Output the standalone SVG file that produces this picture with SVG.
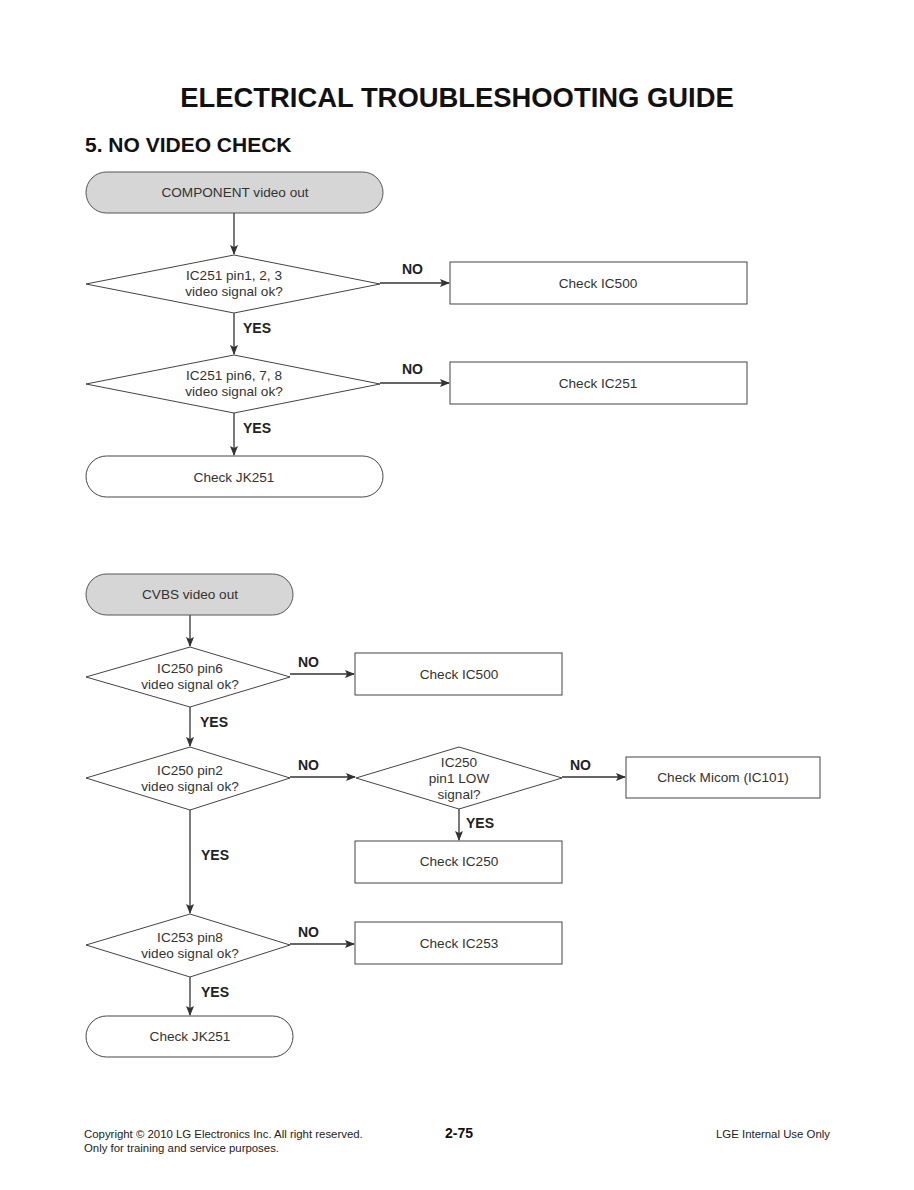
<svg xmlns="http://www.w3.org/2000/svg" width="914" height="1190" viewBox="0 0 914 1190">
<style>
.title{font-family:"Liberation Sans",Arial,sans-serif;font-weight:bold;fill:#111}
.t{font-family:"Liberation Sans",Arial,sans-serif;font-size:13.6px;fill:#333;text-anchor:middle}
.lbl{font-family:"Liberation Sans",Arial,sans-serif;font-size:14px;font-weight:bold;fill:#222}
.shape{fill:#fff;stroke:#444;stroke-width:1}
.start{fill:#d6d6d6;stroke:#555;stroke-width:1}
.conn{fill:none;stroke:#333;stroke-width:1.3}
.foot{font-family:"Liberation Sans Narrow","Liberation Sans",Arial,sans-serif;font-size:11.4px;fill:#222}
</style>
<defs>
<marker id="arr" markerWidth="10" markerHeight="8" refX="9" refY="4" orient="auto" markerUnits="userSpaceOnUse">
<path d="M0,0 L10,4 L0,8 L2,4 z" fill="#333"/>
</marker>
</defs>
<rect width="914" height="1190" fill="#fff"/>
<text class="title" x="457" y="107" font-size="27.4" text-anchor="middle">ELECTRICAL TROUBLESHOOTING GUIDE</text>
<text class="title" x="85" y="152" font-size="21">5. NO VIDEO CHECK</text>

<g id="connectors">
<path class="conn" d="M234,213 V254" marker-end="url(#arr)"/>
<path class="conn" d="M380,283 H449" marker-end="url(#arr)"/>
<path class="conn" d="M234,313 V354" marker-end="url(#arr)"/>
<path class="conn" d="M380,383 H449" marker-end="url(#arr)"/>
<path class="conn" d="M234,413 V455" marker-end="url(#arr)"/>
<path class="conn" d="M190,615 V646" marker-end="url(#arr)"/>
<path class="conn" d="M290,674 H354" marker-end="url(#arr)"/>
<path class="conn" d="M190,707 V746" marker-end="url(#arr)"/>
<path class="conn" d="M290,777 H355" marker-end="url(#arr)"/>
<path class="conn" d="M562,777 H625" marker-end="url(#arr)"/>
<path class="conn" d="M459,809 V840" marker-end="url(#arr)"/>
<path class="conn" d="M190,810 V913" marker-end="url(#arr)"/>
<path class="conn" d="M290,944 H354" marker-end="url(#arr)"/>
<path class="conn" d="M190,977 V1015" marker-end="url(#arr)"/>
<text class="lbl" x="402" y="274">NO</text>
<text class="lbl" x="243" y="333">YES</text>
<text class="lbl" x="402" y="374">NO</text>
<text class="lbl" x="243" y="433">YES</text>
<text class="lbl" x="298" y="667">NO</text>
<text class="lbl" x="200" y="727">YES</text>
<text class="lbl" x="298" y="770">NO</text>
<text class="lbl" x="570" y="770">NO</text>
<text class="lbl" x="466" y="828">YES</text>
<text class="lbl" x="201" y="860">YES</text>
<text class="lbl" x="298" y="937">NO</text>
<text class="lbl" x="201" y="997">YES</text>
</g>

<g id="component_start">
<rect class="start" x="86" y="172" width="297" height="41" rx="20.5"/>
<text class="t" x="235" y="197">COMPONENT video out</text>
</g>
<g id="d1">
<polygon class="shape" points="234,255 380,284 234,313 86,284"/>
<text class="t" x="234" y="280">IC251 pin1, 2, 3</text>
<text class="t" x="234" y="296">video signal ok?</text>
</g>
<g id="b1">
<rect class="shape" x="450" y="262" width="297" height="42"/>
<text class="t" x="598" y="288">Check IC500</text>
</g>
<g id="d2">
<polygon class="shape" points="234,355 380,384 234,413 86,384"/>
<text class="t" x="234" y="380">IC251 pin6, 7, 8</text>
<text class="t" x="234" y="396">video signal ok?</text>
</g>
<g id="b2">
<rect class="shape" x="450" y="362" width="297" height="42"/>
<text class="t" x="598" y="388">Check IC251</text>
</g>
<g id="end1">
<rect class="shape" x="86" y="456" width="297" height="41" rx="20.5"/>
<text class="t" x="234" y="482">Check JK251</text>
</g>

<g id="cvbs_start">
<rect class="start" x="86" y="574" width="207" height="41" rx="20.5"/>
<text class="t" x="190" y="599">CVBS video out</text>
</g>
<g id="d3">
<polygon class="shape" points="190,647 290,677 190,707 86,677"/>
<text class="t" x="190" y="673">IC250 pin6</text>
<text class="t" x="190" y="689">video signal ok?</text>
</g>
<g id="b3">
<rect class="shape" x="355" y="653" width="207" height="42"/>
<text class="t" x="459" y="679">Check IC500</text>
</g>
<g id="d4">
<polygon class="shape" points="190,747 290,778 190,810 86,778"/>
<text class="t" x="190" y="775">IC250 pin2</text>
<text class="t" x="190" y="791">video signal ok?</text>
</g>
<g id="d5">
<polygon class="shape" points="459,747 562,778 459,809 356,778"/>
<text class="t" x="459" y="767">IC250</text>
<text class="t" x="459" y="783">pin1 LOW</text>
<text class="t" x="459" y="799">signal?</text>
</g>
<g id="b4">
<rect class="shape" x="626" y="757" width="194" height="41"/>
<text class="t" x="723" y="782">Check Micom (IC101)</text>
</g>
<g id="b5">
<rect class="shape" x="355" y="841" width="207" height="42"/>
<text class="t" x="459" y="866">Check IC250</text>
</g>
<g id="d6">
<polygon class="shape" points="190,914 290,945 190,977 86,945"/>
<text class="t" x="190" y="942">IC253 pin8</text>
<text class="t" x="190" y="958">video signal ok?</text>
</g>
<g id="b6">
<rect class="shape" x="355" y="922" width="207" height="42"/>
<text class="t" x="459" y="948">Check IC253</text>
</g>
<g id="end2">
<rect class="shape" x="86" y="1016" width="207" height="41" rx="20.5"/>
<text class="t" x="190" y="1041">Check JK251</text>
</g>

<g id="footer">
<text class="foot" x="84" y="1138">Copyright © 2010 LG Electronics Inc. All right reserved.</text>
<text class="foot" x="84" y="1152">Only for training and service purposes.</text>
<text class="title" x="459" y="1138" font-size="14" text-anchor="middle">2-75</text>
<text class="foot" x="830" y="1138" text-anchor="end">LGE Internal Use Only</text>
</g>
</svg>
